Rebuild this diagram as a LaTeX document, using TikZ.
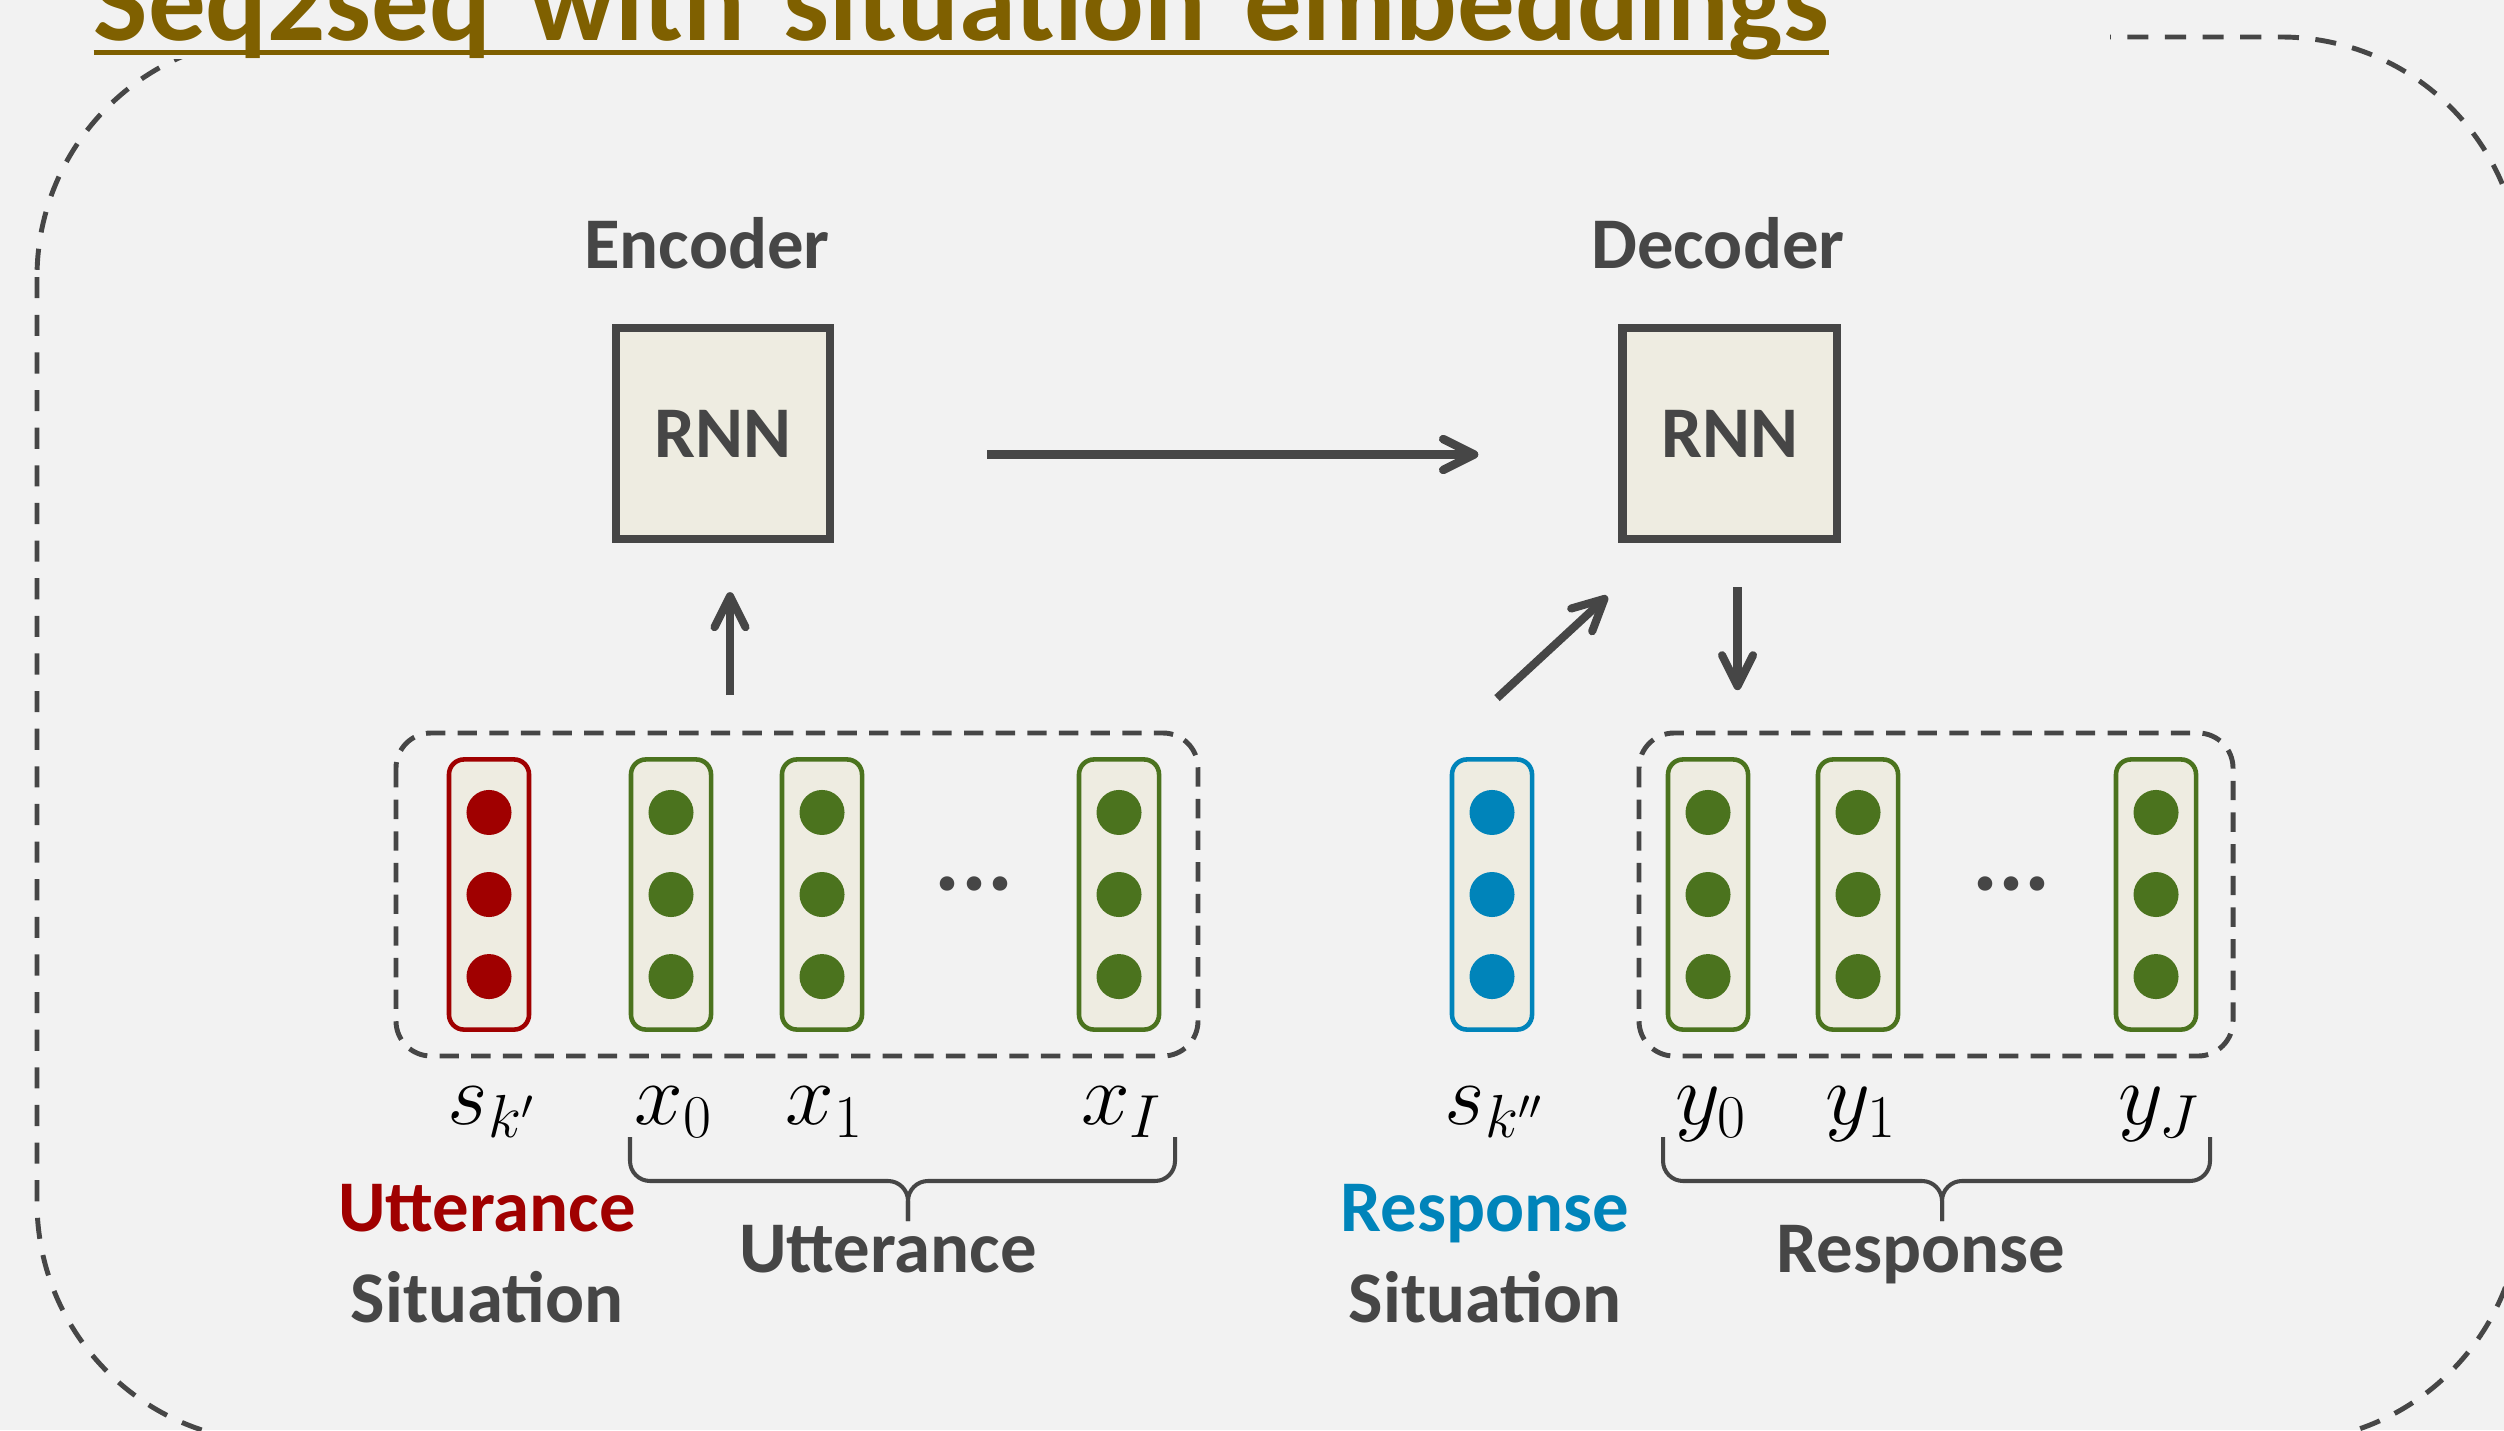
\documentclass[tikz,border=0pt]{standalone}
\usepackage{fontspec}
\setmainfont{Carlito}
\usepackage{xcolor}
\usepackage{tikz}
\usetikzlibrary{arrows.meta,positioning}

\definecolor{bgc}{RGB}{242,242,242}
\definecolor{boxc}{RGB}{238,236,225}
\definecolor{inkc}{RGB}{70,70,70}
\definecolor{titlec}{RGB}{127,96,0}
\definecolor{uttc}{RGB}{160,0,0}
\definecolor{respc}{RGB}{0,132,186}
\definecolor{vecc}{RGB}{75,115,30}

\newsavebox\ttlbox
\newcommand{\ttlline}[1]{\sbox\ttlbox{#1}\rlap{\rule[-0.154cm]{\wd\ttlbox}{0.053cm}}\usebox\ttlbox}

\begin{document}
\begin{tikzpicture}[
  x=0.01cm, y=-0.01cm,
  txt/.style={font=\fontsize{20.7}{25}\bfseries\selectfont, text=inkc, inner sep=0pt},
  title/.style={font=\fontsize{32.7}{40}\bfseries\selectfont, text=titlec, inner sep=0pt,
                fill=bgc, text width=20.15cm, align=left},
  rnn/.style={txt, draw=inkc, line width=2.3pt, fill=boxc, minimum width=2.14cm, minimum height=2.11cm},
  vec/.style={draw, line width=1.3pt, fill=boxc, rounded corners=0.15cm,
              minimum width=0.80cm, minimum height=2.70cm},
  group/.style={draw=inkc, line width=1.4pt, dash pattern=on 5.5pt off 3.5pt, rounded corners=0.35cm},
  outer/.style={draw=inkc, line width=1.4pt, dash pattern=on 6pt off 4.7pt, rounded corners=2.4cm},
  mlbl/.style={font=\fontsize{25.5}{30}\selectfont, inner sep=0pt, anchor=base, xshift=0.03cm},
  arr/.style={draw=inkc, line width=2.3pt, -{Straight Barb[length=8.8pt,width=8.8pt,round]}},
  brc/.style={draw=inkc, line width=1.15pt, rounded corners=0.2cm}
]
\useasboundingbox (0,0) rectangle (2504,1430);
\fill[bgc] (0,0) rectangle (2504,1430);
\draw[outer] (37,37) rectangle (2521,1442);

\node[title, anchor=base west] (ttl) at (93,40) {\ttlline{Seq2seq with situation embeddings}};

\node[rnn] (enc) at (723,433.5) {RNN};
\node[rnn] (dec) at (1729.5,433.5) {RNN};
\node[txt, anchor=base] (enclbl) at (707,268) {Encoder};
\node[txt, anchor=base] (declbl) at (1718,268) {Decoder};

\draw[group] (396,733) rectangle (1198,1056);
\draw[group] (1639,733) rectangle (2233,1056);

\foreach \nm/\xx/\col in {sk/489/uttc, x0/671/vecc, x1/822/vecc, xI/1119/vecc,
                           skk/1492/respc, y0/1708/vecc, y1/1858/vecc, yJ/2156/vecc} {
  \node[vec, draw=\col] (\nm) at (\xx,894.5) {};
  \foreach \d in {-0.82,0,0.82}
    \fill[\col] ([yshift=\d cm]\nm.center) circle (0.225cm);
}
\node[txt, font=\fontsize{27.7}{30}\bfseries\selectfont, anchor=base] (edots) at (974,890) {...};
\node[txt, font=\fontsize{27.7}{30}\bfseries\selectfont, anchor=base] (ddots) at (2011,890) {...};

\coordinate (lblrow) at (0,1124);
\node[mlbl] (lsk)  at (sk |- lblrow)  {$s_{k'}$};
\node[mlbl] (lx0)  at (x0 |- lblrow)  {$x_0$};
\node[mlbl] (lx1)  at (x1 |- lblrow)  {$x_1$};
\node[mlbl] (lxI)  at (xI |- lblrow)  {$x_I$};
\node[mlbl] (lskk) at (skk |- lblrow) {$s_{k''}$};
\node[mlbl] (ly0)  at (y0 |- lblrow)  {$y_0$};
\node[mlbl] (ly1)  at (y1 |- lblrow)  {$y_1$};
\node[mlbl] (lyJ)  at (yJ |- lblrow)  {$y_J$};

\coordinate (ub1) at (630,1137);
\coordinate (ub2) at (1175,1137);
\coordinate (ubm) at (908,1221);
\coordinate (rb1) at (1663,1137);
\coordinate (rb2) at (2210,1137);
\coordinate (rbm) at (1942,1221);
\draw[brc] (ub1) |- ([yshift=0.4cm]ubm) -- (ubm);
\draw[brc] (ub2) |- ([yshift=0.4cm]ubm) -- (ubm);
\draw[brc] (rb1) |- ([yshift=0.4cm]rbm) -- (rbm);
\draw[brc] (rb2) |- ([yshift=0.4cm]rbm) -- (rbm);
\node[txt, anchor=base] (uttlbl)  at (888,1272)  {Utterance};
\node[txt, anchor=base] (resplbl) at (1921,1272) {Response};

\node[txt, anchor=base, text=uttc]  (uttsit)  at (487,1231)  {Utterance};
\node[txt, anchor=base]             (uttsit2) at (487,1322)  {Situation};
\node[txt, anchor=base, text=respc] (respsit) at (1485,1231) {Response};
\node[txt, anchor=base]             (respsit2) at (1485,1322) {Situation};

\draw[arr, line width=2.4pt] ([shift={(1.53cm,-0.21cm)}]enc.east) -- ([shift={(-1.40cm,-0.21cm)}]dec.west);
\draw[arr] ([shift={(0.07cm,-1.52cm)}]enc.south) -- ([shift={(0.07cm,-0.49cm)}]enc.south);
\draw[arr] ([shift={(0.05cm,0.59cm)}]skk.north) -- ([shift={(-0.11cm,-0.53cm)}]dec.south west);
\draw[arr] ([shift={(0.08cm,-0.44cm)}]dec.south) -- ([shift={(0.08cm,-1.47cm)}]dec.south);
\end{tikzpicture}
\end{document}
